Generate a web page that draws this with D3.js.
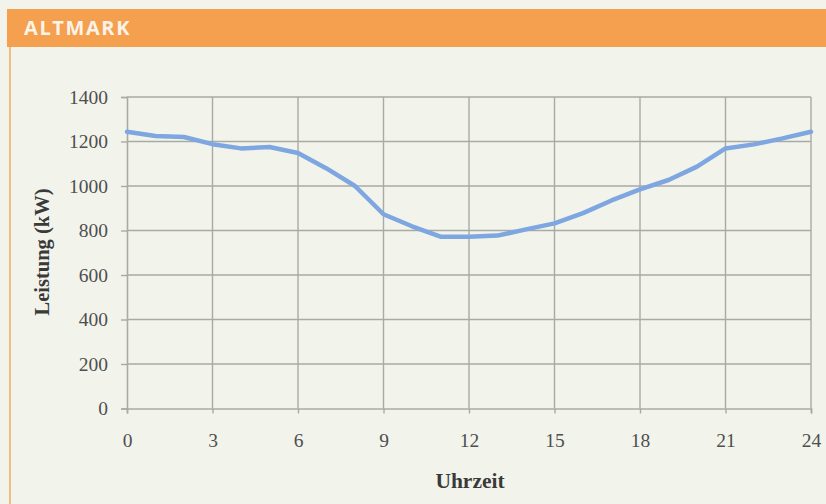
<!DOCTYPE html>
<html><head><meta charset="utf-8">
<script src="https://cdn.jsdelivr.net/npm/d3@7"></script>
<style>html,body{margin:0;padding:0;background:#f2f4ec;}svg{display:block;}</style>
</head><body>
<script>
const title = "ALTMARK";
const hours = [0,1,2,3,4,5,6,7,8,9,10,11,12,13,14,15,16,17,18,19,20,21,22,23,24];
const power = [1244,1225,1220,1188,1169,1175,1148,1079,1000,873,819,772,772,777,805,832,878,935,985,1027,1087,1169,1187,1214,1244];
const xTicks = [0,3,6,9,12,15,18,21,24];
const yTicks = [0,200,400,600,800,1000,1200,1400];
const xLabel = "Uhrzeit";
const yLabel = "Leistung (kW)";

const W = 826, H = 504;
const svg = d3.select("body").append("svg").attr("width", W).attr("height", H);
svg.append("rect").attr("width", W).attr("height", H).attr("fill", "#f2f4ec");
// header bar
svg.append("rect").attr("x", 7).attr("y", 9).attr("width", W - 7).attr("height", 38).attr("fill", "#f5a04f");
svg.append("text").attr("x", 24).attr("y", 35).text(title)
  .attr("font-family", "Open Sans, Lato, sans-serif").attr("font-weight", 700)
  .attr("font-size", 20).attr("letter-spacing", 1.6).attr("fill", "#fbf3e8");
// left panel border
svg.append("line").attr("x1", 10).attr("x2", 10).attr("y1", 47).attr("y2", H)
  .attr("stroke", "#f3bd82").attr("stroke-width", 2);

const x = d3.scaleLinear().domain([0, 24]).range([127, 811]);
const y = d3.scaleLinear().domain([0, 1400]).range([408.5, 97]);

const grid = svg.append("g").attr("stroke", "#a9aaa4").attr("stroke-width", 1.4);
grid.selectAll(".h").data(yTicks.filter(d => d > 0)).join("line")
  .attr("x1", x(0)).attr("x2", x(24)).attr("y1", d => y(d)).attr("y2", d => y(d));
grid.selectAll(".v").data(xTicks.filter(d => d > 0)).join("line")
  .attr("x1", d => x(d)).attr("x2", d => x(d)).attr("y1", y(0)).attr("y2", y(1400));

const font = "Liberation Serif, Times New Roman, serif";
const xAxis = svg.append("g").attr("transform", `translate(0,${y(0)})`)
  .call(d3.axisBottom(x).tickValues(xTicks).tickFormat(d3.format("d")).tickSize(5).tickPadding(20));
const yAxis = svg.append("g").attr("transform", `translate(${x(0)},0)`)
  .call(d3.axisLeft(y).tickValues(yTicks).tickFormat(d3.format("d")).tickSize(6).tickPadding(13));
[xAxis, yAxis].forEach(a => {
  a.select(".domain").attr("stroke", "#a9aaa4").attr("stroke-width", 1.6);
  a.selectAll(".tick line").attr("stroke", "#a9aaa4").attr("stroke-width", 1.4);
  a.selectAll("text").attr("font-family", font).attr("font-size", 19.5).attr("fill", "#4e4e4e");
});

svg.append("path").datum(hours.map((h, i) => [h, power[i]]))
  .attr("fill", "none").attr("stroke", "#7ea6e0").attr("stroke-width", 4.5)
  .attr("stroke-linejoin", "round").attr("stroke-linecap", "round")
  .attr("d", d3.line().x(d => x(d[0])).y(d => y(d[1])));

svg.append("text").attr("x", 470).attr("y", 488).attr("text-anchor", "middle")
  .attr("font-family", font).attr("font-weight", 700).attr("font-size", 21.5).attr("fill", "#3a3a3a")
  .text(xLabel);
svg.append("text").attr("transform", "translate(49,252) rotate(-90)").attr("text-anchor", "middle")
  .attr("font-family", font).attr("font-weight", 700).attr("font-size", 20.5).attr("fill", "#3a3a3a")
  .text(yLabel);
</script>
</body></html>
